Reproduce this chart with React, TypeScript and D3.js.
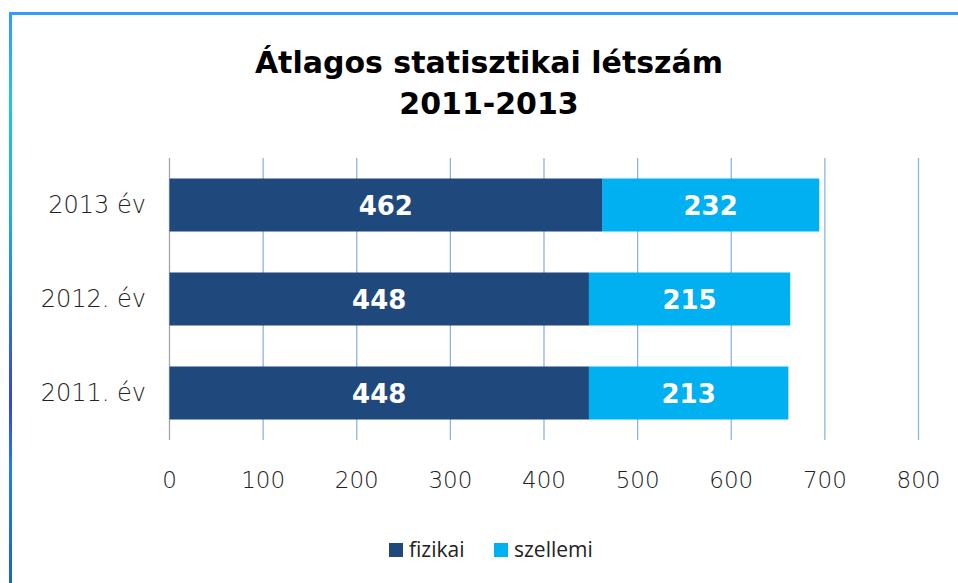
import React from "react";
import * as d3 from "d3";

const categories = ["2013 év", "2012. év", "2011. év"];
const fizikai = [462, 448, 448];
const szellemi = [232, 215, 213];
const seriesNames = ["fizikai", "szellemi"];
const xTicks = [0, 100, 200, 300, 400, 500, 600, 700, 800];
const titleLines = ["Átlagos statisztikai létszám", "2011-2013"];

const W = 958;
const H = 583;
const colors = ["#1f497d", "#00b0f0"];

export default function App() {
  const x = d3.scaleLinear().domain([0, 800]).range([169.5, 918.5]);
  const y = d3.scaleBand<string>().domain(categories).range([158, 440]).paddingInner(0.436).paddingOuter(0.218);
  const stacked = categories.map((c, i) => ({ c, vals: [fizikai[i], szellemi[i]] }));
  const boldFont = "'DejaVu Sans', sans-serif";
  const lightFont = "'DejaVu Sans ExtraLight', 'DejaVu Sans', sans-serif";

  return (
    <svg width={W} height={H} style={{ position: "absolute", left: 0, top: 0 }}>
      <defs>
        <linearGradient id="lg" x1="0" y1="0" x2="0" y2="1">
          <stop offset="0" stopColor="#3399ff" />
          <stop offset="0.15" stopColor="#1ec8d8" />
          <stop offset="0.35" stopColor="#19b4d8" />
          <stop offset="0.68" stopColor="#3a44d0" />
          <stop offset="0.8" stopColor="#1e7ff0" />
          <stop offset="1" stopColor="#1a6aa8" />
        </linearGradient>
      </defs>
      <rect x={0} y={0} width={W} height={H} fill="#fff" />
      <rect x={9} y={12} width={W - 9} height={3} fill="#3399ff" />
      <rect x={9} y={12} width={3} height={H - 12} fill="url(#lg)" />

      {titleLines.map((t, i) => (
        <text key={t} x={489} y={73 + i * 41} textAnchor="middle" fontFamily={boldFont} fontWeight="bold" fontSize={30} fill="#000">
          {t}
        </text>
      ))}

      {xTicks.map((t) => (
        <line key={t} x1={x(t)} x2={x(t)} y1={158} y2={440} stroke={t === 0 ? "#a6a6a6" : "#8db3e2"} strokeWidth={1.3} />
      ))}

      {stacked.map((d) => {
        let acc = 0;
        return d.vals.map((v, j) => {
          const x0 = x(acc);
          acc += v;
          const x1 = x(acc);
          const yy = y(d.c)!;
          return (
            <g key={d.c + j}>
              <rect x={x0} y={yy} width={x1 - x0} height={y.bandwidth()} fill={colors[j]} />
              <text x={(x0 + x1) / 2} y={yy + y.bandwidth() / 2 + 10} textAnchor="middle" fontFamily={boldFont} fontWeight="bold" fontSize={26} fill="#fff">
                {v}
              </text>
            </g>
          );
        });
      })}

      {categories.map((c) => (
        <text key={c} x={146} y={y(c)! + y.bandwidth() / 2 + 8} textAnchor="end" fontFamily={lightFont} fontWeight={200} fontSize={24} fill="#222">
          {c}
        </text>
      ))}

      {xTicks.map((t) => (
        <text key={t} x={x(t)} y={488} textAnchor="middle" fontFamily={lightFont} fontWeight={200} fontSize={23} fill="#222">
          {t}
        </text>
      ))}

      {seriesNames.map((s, i) => {
        const lx = [389, 494][i];
        return (
          <g key={s}>
            <rect x={lx} y={543} width={14} height={14} fill={colors[i]} />
            <text x={lx + 20} y={557} fontFamily="'Open Sans', sans-serif" fontSize={21} fill="#222">
              {s}
            </text>
          </g>
        );
      })}
    </svg>
  );
}
